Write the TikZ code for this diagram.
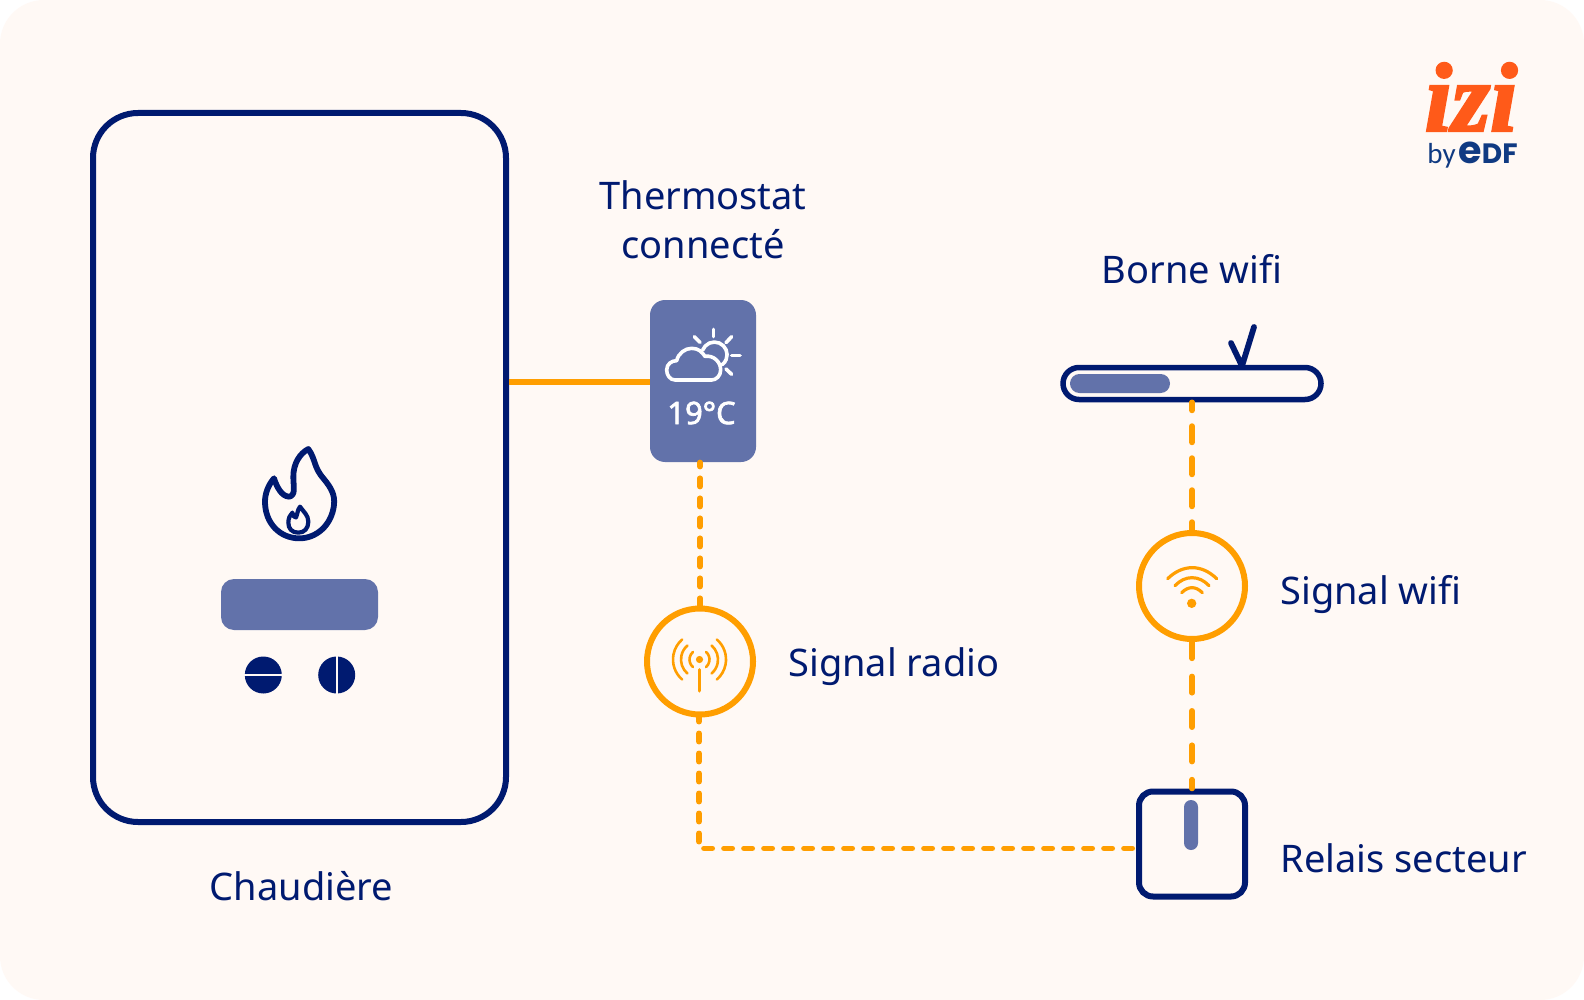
\documentclass[tikz,border=0pt]{standalone}
\usepackage{fontspec}
\setmainfont{Noto Sans}
\newfontfamily\tempfont[FakeBold=2.2]{Noto Sans}
\newfontfamily\izifont[FakeBold=2.5]{Liberation Serif}
\newfontfamily\edffont{Poppins}
\newfontfamily\byfont{Carlito}
\usetikzlibrary{positioning}
\definecolor{IziNavy}{HTML}{001A70}
\definecolor{IziSlate}{HTML}{6272AA}
\definecolor{IziAmber}{HTML}{FF9E00}
\definecolor{IziCream}{HTML}{FFF9F5}
\definecolor{IziOrange}{HTML}{FF5A19}
\definecolor{EdfBlue}{HTML}{103A82}
\tikzset{
  device/.style={draw=IziNavy,line width=3pt,rounded corners=7pt,inner sep=0pt,fill=IziCream},
  panel/.style={fill=IziSlate,inner sep=0pt},
  signal/.style={circle,draw=IziAmber,line width=3pt,minimum size=53pt,inner sep=0pt,fill=IziCream},
  caption/.style={text=IziNavy,font=\fontsize{19}{24.25}\selectfont,align=center,inner sep=0pt},
  cable/.style={draw=IziAmber,line width=3pt},
  radiolink/.style={draw=IziAmber,line width=2.75pt,line cap=round,dash pattern=on 4.2pt off 5.8pt,dash phase=2.1pt},
  wifilink/.style={draw=IziAmber,line width=2.75pt,line cap=round,dash pattern=on 8.2pt off 7.8pt,dash phase=4.1pt},
  relaylink/.style={draw=IziAmber,line width=2.75pt,line cap=round,dash pattern=on 8.2pt off 9pt},
  glyph/.style={draw=IziNavy,line width=2.9pt,line join=round,line cap=round},
  weather/.style={draw=white,line width=1.8pt,line join=round,line cap=round},
  wave/.style={draw=IziAmber,line width=1.3pt,line cap=round},
  zoomed/.style={x=.166667pt,y=-.166667pt}
}
\begin{document}
\begin{tikzpicture}[x=.5pt,y=-.5pt]
  \useasboundingbox (0,0) rectangle (1584,1000);
  \fill[white] (0,0) rectangle (1584,1000);
  \fill[IziCream,rounded corners=22pt] (0,0) rectangle (1584,1000);
  % main devices
  \node[device,rounded corners=22.5pt,minimum width=206.5pt,minimum height=354.5pt] (boiler) at (299.5,467.5) {};
  \node[panel,rounded corners=7.5pt,minimum width=53pt,minimum height=81pt] (thermo) at (703,381) {};
  \node[signal] (radio) at (700,661.5) {};
  \node[signal] (wifi) at (1192,586) {};
  \node[device,minimum width=53pt,minimum height=52.5pt] (relay) at (1192,844) {};
  \node[device,rounded corners=8pt,line width=2.75pt,minimum width=129pt,minimum height=16pt] (router) at (1192,383.5) {};
  % links
  \draw[cable] ([yshift=-.4pt]boiler.east |- thermo.west) -- ([yshift=-.4pt]thermo.west);
  \draw[radiolink] (radio |- thermo.south) -- (radio.north);
  \draw[radiolink] ([xshift=-.5pt]radio.south) |- ([yshift=-2.2pt]relay.west);
  \draw[wifilink] (router.south) -- (wifi.north);
  \draw[relaylink] (wifi.south) -- (relay.north);
  % captions
  \node[caption,below=23pt of boiler,xshift=1pt] (chaudiere) {Chaudière};
  \node[caption,above=20.2pt of thermo] (thermolabel) {Thermostat\\connecté};
  \node[caption,above=40pt of router] (routerlabel) {Borne wifi};
  \node[caption,right=16pt of radio,yshift=-2.5pt] (radiolabel) {Signal radio};
  \node[caption,right=16pt of wifi,yshift=-4.5pt] (wifilabel) {Signal wifi};
  \node[caption,right=16pt of relay,yshift=-7.2pt] (relaylabel) {Relais secteur};
  \node[text=white,font=\tempfont\fontsize{15.5}{15.5}\selectfont,inner sep=0pt] (temp) at (701.5,413) {19°C};
  % boiler front
  \node[panel,rounded corners=6.5pt,minimum width=78.5pt,minimum height=25.5pt] (screen) at (299.5,604.5) {};
  \node[circle,fill=IziNavy,minimum size=18.5pt,inner sep=0pt] (knoba) at (263.3,675) {};
  \node[circle,fill=IziNavy,minimum size=18.5pt,inner sep=0pt] (knobb) at (336.7,675) {};
  \draw[IziCream,line width=.8pt] (knoba.west) -- (knoba.east);
  \draw[IziCream,line width=.8pt] (knobb.north) -- (knobb.south);
  \begin{scope}[shift={(210,430)},zoomed]
    \draw[glyph] (295,57) .. controls (318,90) and (310,110) .. (340,145) .. controls (365,175) and (375,195) .. (372,225)
      .. controls (365,285) and (320,325) .. (268,325) .. controls (210,325) and (165,280) .. (165,215)
      .. controls (165,190) and (175,165) .. (192,145) .. controls (200,170) and (215,200) .. (238,200)
      .. controls (258,195) and (250,170) .. (250,140) .. controls (250,100) and (270,70) .. (295,57) -- cycle;
    \draw[glyph,line width=2.1pt] (270,230) .. controls (280,245) and (295,255) .. (295,275) .. controls (295,295) and (283,308) .. (265,308)
      .. controls (245,308) and (235,295) .. (235,278) .. controls (235,265) and (240,255) .. (247,248)
      .. controls (250,258) and (255,265) .. (258,262) .. controls (262,255) and (262,240) .. (270,230) -- cycle;
  \end{scope}
  % weather icon
  \begin{scope}[shift={(630,290)},zoomed]
    \draw[weather] (135,270) -- (245,270) .. controls (258,270) and (272,258) .. (272,240) .. controls (272,215) and (250,195) .. (225,199)
      .. controls (215,185) and (205,175) .. (185,175) .. controls (165,175) and (145,190) .. (140,212)
      .. controls (125,212) and (110,222) .. (110,240) .. controls (110,255) and (120,270) .. (135,270) -- cycle;
    \draw[weather] (218,180) arc[start angle=202,end angle=412,radius=38];
    \draw[weather] (250,118) -- (250,140);
    \draw[weather] (193,140) -- (210,157);
    \draw[weather] (305,140) -- (288,158);
    \draw[weather] (305,197) -- (330,197);
    \draw[weather] (288,237) -- (305,253);
  \end{scope}
  % radio icon
  \coordinate (mast) at (699.5,659.5);
  \fill[IziAmber] (mast) circle (3.6);
  \draw[wave,line width=1.5pt] (699.5,669.5) -- (699.5,691);
  \draw[wave] ([shift={(131:10)}]mast) arc[start angle=131,end angle=229,radius=10];
  \draw[wave] ([shift={(131:18.5)}]mast) arc[start angle=131,end angle=229,radius=18.5];
  \draw[wave] ([shift={(131:26.5)}]mast) arc[start angle=131,end angle=229,radius=26.5];
  \draw[wave] ([shift={(-49:10)}]mast) arc[start angle=-49,end angle=49,radius=10];
  \draw[wave] ([shift={(-49:18.5)}]mast) arc[start angle=-49,end angle=49,radius=18.5];
  \draw[wave] ([shift={(-49:26.5)}]mast) arc[start angle=-49,end angle=49,radius=26.5];
  % wifi icon
  \begin{scope}[shift={(1120,520)},zoomed]
    \fill[IziAmber] (215,250) circle (14);
    \draw[wave,line width=1.6pt] (185,218) .. controls (205,198) and (227,198) .. (247,218);
    \draw[wave,line width=1.6pt] (165,197) .. controls (195,165) and (237,165) .. (267,197);
    \draw[wave,line width=1.6pt] (143,176) .. controls (188,132) and (245,132) .. (290,176);
  \end{scope}
  % router and relay details
  \node[panel,rounded corners=4.7pt,minimum width=50pt,minimum height=9.5pt] (routerbar) at (1120,383.5) {};
  \coordinate (aerial) at (1242,366);
  \draw[glyph] (1231,343) -- (aerial) -- (1254,327);
  \node[panel,rounded corners=3.5pt,minimum width=7pt,minimum height=25pt] (relaybar) at (1191,825) {};
  % logo
  \node[text=IziOrange,font=\izifont\fontsize{49}{49}\bfseries\itshape\selectfont,inner sep=0pt,anchor=base] (izi) at (1471,131) {izi};
  \node[text=EdfBlue,font=\byfont\fontsize{14.5}{14.5}\selectfont,inner sep=0pt,anchor=base west] (by) at (1427,164) {by};
  \node[text=EdfBlue,font=\edffont\bfseries\fontsize{14}{14}\selectfont,inner sep=0pt,anchor=base east] (edf) at (1518,164) {{\fontsize{19}{19}\selectfont e}DF};
\end{tikzpicture}
\end{document}
